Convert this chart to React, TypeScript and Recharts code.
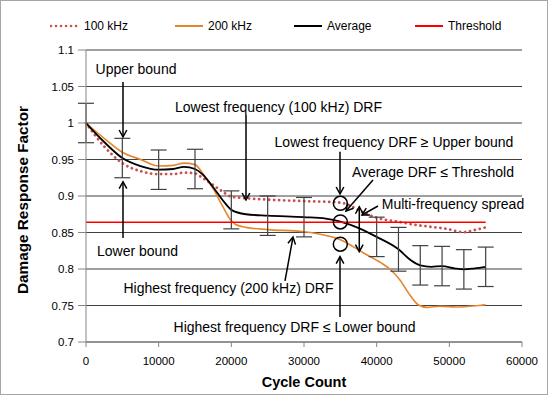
import React from "react";
import {
  ComposedChart,
  Line,
  Scatter,
  ErrorBar,
  XAxis,
  YAxis,
  CartesianGrid,
  Legend,
  ReferenceLine,
  ReferenceDot,
} from "recharts";

// values (cycle count -> damage response factor)
const cycles100 = [0, 2500, 5000, 7500, 10000, 12000, 13500, 15000, 16000, 17500, 18800, 20000, 22000, 25000, 30000, 35000, 36300, 38200, 40500, 42800, 45000, 47300, 49600, 51900, 53300, 55000];
const drf100 = [1.0, 0.968, 0.945, 0.934, 0.93, 0.93, 0.932, 0.931, 0.925, 0.915, 0.906, 0.899, 0.897, 0.895, 0.893, 0.891, 0.887, 0.877, 0.869, 0.865, 0.861, 0.858, 0.855, 0.8505, 0.853, 0.857];

const cycles200 = [0, 2500, 5000, 7500, 10000, 12000, 13500, 15000, 16000, 17500, 18800, 20000, 20600, 22000, 25000, 30000, 33000, 35000, 36000, 38200, 40500, 41800, 43200, 44600, 45700, 46900, 48700, 51000, 52800, 55000];
const drf200 = [1.0, 0.979, 0.96, 0.95, 0.941, 0.942, 0.945, 0.943, 0.932, 0.91, 0.886, 0.866, 0.861, 0.857, 0.854, 0.851, 0.846, 0.84, 0.835, 0.822, 0.809, 0.8, 0.785, 0.764, 0.751, 0.7475, 0.749, 0.748, 0.749, 0.751];

const cyclesAvg = [0, 2500, 5000, 7500, 10000, 12000, 13500, 15000, 16000, 17500, 19000, 20000, 22000, 25000, 30000, 33000, 35000, 38000, 40000, 43000, 44700, 46000, 47500, 49000, 50700, 52000, 53500, 55000];
const drfAvg = [1.0, 0.974, 0.952, 0.941, 0.936, 0.937, 0.94, 0.937, 0.93, 0.912, 0.892, 0.881, 0.875, 0.873, 0.871, 0.869, 0.865, 0.854, 0.844, 0.827, 0.812, 0.805, 0.803, 0.804, 0.801, 0.7995, 0.801, 0.803];

const barCycles = [0, 5000, 10000, 15000, 20000, 25000, 30000, 40000, 43000, 46000, 49000, 52000, 55000];
const barMeans = [1.0, 0.952, 0.936, 0.937, 0.881, 0.873, 0.871, 0.844, 0.827, 0.805, 0.804, 0.7995, 0.803];
const barHalf = [0.027, 0.027, 0.027, 0.027, 0.026, 0.027, 0.027, 0.027, 0.03, 0.027, 0.027, 0.027, 0.027];

const thresholdCycles = [0, 55000];
const thresholdValue = 0.864;

const xTicks = [0, 10000, 20000, 30000, 40000, 50000, 60000];
const yTicks = [0.7, 0.75, 0.8, 0.85, 0.9, 0.95, 1, 1.05, 1.1];

const toRows = (xs: number[], ys: number[]) => xs.map((x, i) => ({ x, y: ys[i] }));

const data100 = toRows(cycles100, drf100);
const data200 = toRows(cycles200, drf200);
const dataAvg = toRows(cyclesAvg, drfAvg);
const dataBars = barCycles.map((x, i) => ({ x, y: barMeans[i], err: barHalf[i] }));
const dataThreshold = thresholdCycles.map((x) => ({ x, y: thresholdValue }));

// annotation placement, in chart units
const notes = [
  { text: "Upper bound", x: 6881, y: 1.074 },
  { text: "Lower bound", x: 7087, y: 0.8247 },
  { text: "Lowest frequency (100 kHz) DRF", x: 26490, y: 1.0219 },
  { text: "Lowest frequency DRF \u2265 Upper bound", x: 42385, y: 0.9736 },
  { text: "Average DRF \u2264 Threshold", x: 47752, y: 0.9325 },
  { text: "Multi-frequency spread", x: 50505, y: 0.8886 },
  { text: "Highest frequency (200 kHz) DRF", x: 19609, y: 0.7736 },
  { text: "Highest frequency DRF \u2264 Lower bound", x: 28693, y: 0.7205 },
];

const arrows = [
  { from: [5092, 1.0562], to: [5092, 0.9808], both: false },
  { from: [5092, 0.8425], to: [5092, 0.9196], both: false },
  { from: [22018, 1.011], to: [22018, 0.8945], both: false },
  { from: [34953, 0.9607], to: [34953, 0.9027], both: false },
  { from: [39494, 0.9219], to: [35780, 0.8794], both: false },
  { from: [40183, 0.8863], to: [37981, 0.874], both: false },
  { from: [37608, 0.8853], to: [37608, 0.8237], both: true },
  { from: [27385, 0.7836], to: [28486, 0.8438], both: false },
  { from: [34953, 0.7342], to: [34953, 0.8169], both: false },
];

const circles = [
  { x: 35000, y: 0.89 },
  { x: 35000, y: 0.8645 },
  { x: 35000, y: 0.834 },
];

const FONT = "'Liberation Sans', Arial, sans-serif";
const C100 = "#c9504c";
const C200 = "#e5862f";
const CAVG = "#000000";
const CTHR = "#ff0000";

const legendItems = [
  { name: "100 kHz", color: C100, dotted: true, left: 50 },
  { name: "200 kHz", color: C200, dotted: false, left: 174 },
  { name: "Average", color: CAVG, dotted: false, left: 293 },
  { name: "Threshold", color: CTHR, dotted: false, left: 414 },
];

const renderLegend = () => (
  <div style={{ position: "relative", width: 548, height: 20, fontSize: 12, fontFamily: FONT }}>
    {legendItems.map((it) => (
      <div key={it.name} style={{ position: "absolute", left: it.left, top: 2, display: "flex", alignItems: "center" }}>
        <svg width={30} height={10}>
          <line
            x1={1}
            y1={5}
            x2={29}
            y2={5}
            stroke={it.color}
            strokeWidth={it.dotted ? 2.6 : 2}
            strokeDasharray={it.dotted ? "0.01 5" : undefined}
            strokeLinecap={it.dotted ? "round" : "butt"}
          />
        </svg>
        <span style={{ marginLeft: 4, color: "#000" }}>{it.name}</span>
      </div>
    ))}
  </div>
);

const arrowShape = (both: boolean) => (p: any) => {
  const { x1, y1, x2, y2 } = p;
  const head = (tx: number, ty: number, fx: number, fy: number) => {
    const a = Math.atan2(ty - fy, tx - fx);
    const L = 8;
    const w = 0.5;
    return `M${tx - L * Math.cos(a - w)},${ty - L * Math.sin(a - w)}L${tx},${ty}L${tx - L * Math.cos(a + w)},${ty - L * Math.sin(a + w)}`;
  };
  const d = head(x2, y2, x1, y1) + (both ? head(x1, y1, x2, y2) : "");
  return (
    <g>
      <line x1={x1} y1={y1} x2={x2} y2={y2} stroke="#000" strokeWidth={1.5} />
      <path d={d} fill="none" stroke="#000" strokeWidth={1.5} />
    </g>
  );
};

const noteShape = (text: string) => (p: any) => (
  <text
    x={p.cx}
    y={p.cy}
    textAnchor="middle"
    dominantBaseline="central"
    fontSize={14}
    fontFamily={FONT}
    fill="#000"
  >
    {text}
  </text>
);

const YTitle = (props: any) => {
  const vb = props.viewBox || { x: 0, y: 50, width: 86, height: 292 };
  const cx = vb.x + 22;
  const cy = vb.y + vb.height / 2 + 4;
  return (
    <text
      x={cx}
      y={cy}
      transform={`rotate(-90, ${cx}, ${cy})`}
      textAnchor="middle"
      dominantBaseline="central"
      fontSize={15.3}
      fontWeight="bold"
      fontFamily={FONT}
      fill="#000"
    >
      Damage Response Factor
    </text>
  );
};

const XTitle = (props: any) => {
  const vb = props.viewBox || { x: 86, y: 342, width: 436, height: 53 };
  return (
    <text
      x={vb.x + vb.width / 2}
      y={382}
      textAnchor="middle"
      dominantBaseline="central"
      fontSize={14.5}
      fontWeight="bold"
      fontFamily={FONT}
      fill="#000"
    >
      Cycle Count
    </text>
  );
};

const App: React.FC = () => {
  return (
    <div
      style={{
        position: "absolute",
        left: 0,
        top: 0,
        width: 548,
        height: 395,
        boxSizing: "border-box",
        border: "1px solid #a6a6a6",
        background: "#fff",
        fontFamily: FONT,
      }}
    >
      <div style={{ position: "absolute", left: -1, top: -1 }}>
        <ComposedChart width={548} height={395} margin={{ top: 30, right: 26, bottom: 0, left: 0 }}>
          <CartesianGrid vertical={false} stroke="#404040" strokeWidth={1} />
          <XAxis
            type="number"
            dataKey="x"
            domain={[0, 60000]}
            ticks={xTicks}
            interval={0}
            height={53}
            tickSize={5}
            tickMargin={10}
            tick={{ fontSize: 11.5, fill: "#000" }}
            axisLine={{ stroke: "#868686" }}
            tickLine={{ stroke: "#868686" }}
            label={<XTitle />}
          />
          <YAxis
            type="number"
            domain={[0.7, 1.1]}
            ticks={yTicks}
            interval={0}
            width={86}
            tickSize={8}
            tickMargin={4}
            tick={{ fontSize: 11.5, fill: "#000" }}
            axisLine={{ stroke: "#868686" }}
            tickLine={{ stroke: "#868686" }}
            tickFormatter={(v: number) => String(v)}
            label={<YTitle />}
          />
          <Legend
            verticalAlign="top"
            align="left"
            content={renderLegend}
            wrapperStyle={{ top: 17, left: 0, width: 548, height: 20 }}
          />
          <Line
            data={data100}
            dataKey="y"
            name="100 kHz"
            type="monotone"
            stroke={C100}
            strokeWidth={2.8}
            strokeDasharray="0.01 5"
            strokeLinecap="round"
            dot={false}
            activeDot={false}
            isAnimationActive={false}
          />
          <Line
            data={data200}
            dataKey="y"
            name="200 kHz"
            type="monotone"
            stroke={C200}
            strokeWidth={1.6}
            dot={false}
            activeDot={false}
            isAnimationActive={false}
          />
          <Line
            data={dataAvg}
            dataKey="y"
            name="Average"
            type="monotone"
            stroke={CAVG}
            strokeWidth={1.8}
            dot={false}
            activeDot={false}
            isAnimationActive={false}
          />
          <Scatter
            data={dataBars}
            dataKey="y"
            name="Average error"
            shape={() => <g />}
            isAnimationActive={false}
          >
            <ErrorBar dataKey="err" direction="y" width={8} stroke="#404040" strokeWidth={1.2} isAnimationActive={false} />
          </Scatter>
          <Line
            data={dataThreshold}
            dataKey="y"
            name="Threshold"
            type="linear"
            stroke={CTHR}
            strokeWidth={1.6}
            dot={false}
            activeDot={false}
            isAnimationActive={false}
          />
          {circles.map((c, i) => (
            <ReferenceDot
              key={`c${i}`}
              x={c.x}
              y={c.y}
              r={7}
              fill="none"
              stroke="#000"
              strokeWidth={1.5}
              ifOverflow="visible"
            />
          ))}
          {arrows.map((a, i) => (
            <ReferenceLine
              key={`a${i}`}
              segment={[
                { x: a.from[0], y: a.from[1] },
                { x: a.to[0], y: a.to[1] },
              ]}
              ifOverflow="visible"
              shape={arrowShape(a.both)}
            />
          ))}
          {notes.map((n, i) => (
            <ReferenceDot key={`n${i}`} x={n.x} y={n.y} r={0} ifOverflow="visible" shape={noteShape(n.text)} />
          ))}
        </ComposedChart>
      </div>
    </div>
  );
};

export default App;
